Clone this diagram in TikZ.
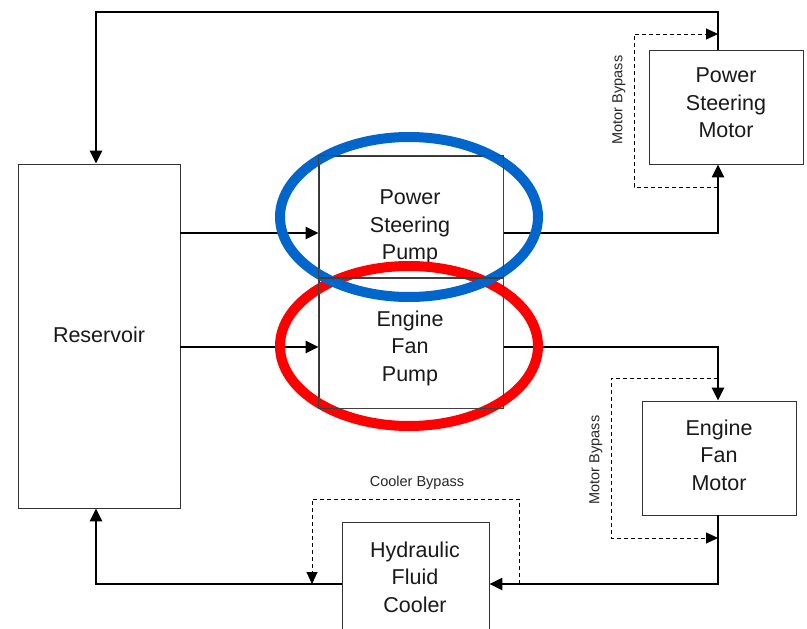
\documentclass[tikz,border=0pt]{standalone}
\usepackage{fontspec}
\setmainfont{Liberation Sans}
\usetikzlibrary{arrows.meta}
\definecolor{ringblue}{RGB}{0,102,204}
\definecolor{ringred}{RGB}{255,0,0}
\begin{document}
\begin{tikzpicture}[x=1pt,y=-1pt,
  box/.style={draw=black!80,line width=0.9pt,inner sep=0pt},
  outline/.style={draw=black!75,line width=0.9pt},
  lbl/.style={align=center,font=\fontsize{21.5}{27.5}\selectfont,text=black!90},
  small/.style={font=\fontsize{14.5}{17}\selectfont,text=black!85},
  flow/.style={line width=2.4pt,-{Triangle[length=13pt,width=12pt]}},
  bypass/.style={line width=0.9pt,dash pattern=on 4pt off 3pt,-{Triangle[length=12pt,width=11pt]}},
  ring/.style={line width=10pt}]
\useasboundingbox (0,0) rectangle (807,629);
\fill[white] (0,0) rectangle (807,629);
% boxes
\node[box,minimum width=162,minimum height=344] (res) at (99,336) {};
\node[box,minimum width=184,minimum height=122] (psp) at (411,217) {};
\node[box,minimum width=184,minimum height=130] (efp) at (411,343) {};
\node[box,minimum width=154,minimum height=114] (psm) at (726,107) {};
\node[box,minimum width=154,minimum height=114] (efm) at (719,458) {};
\node[box,minimum width=147,minimum height=128] (hfc) at (415.5,586) {};
% corner coordinates
\coordinate (tl) at (96,12);
\coordinate (tr) at (718,12);
\coordinate (r1) at (718,233);
\coordinate (r2) at (718,347);
\coordinate (bl) at (96,584);
\coordinate (br) at (718,584);
% main flow
\draw[flow] (tr |- psm.north) -- (tr) -- (tl) -- (tl |- res.north);
\draw[flow] (res.east |- r1) -- (psp.west |- r1);
\draw[flow] (res.east |- r2) -- (efp.west |- r2);
\draw[flow] (psp.east |- r1) -- (r1) -- (r1 |- psm.south);
\draw[flow] (efp.east |- r2) -- (r2) -- (r2 |- efm.north);
\draw[flow] (br |- efm.south) -- (br) -- (hfc.east |- br);
\draw[flow] (hfc.west |- bl) -- (bl) -- (bl |- res.south);
% bypasses
\coordinate (a1) at (718,187);
\coordinate (a2) at (634,187);
\coordinate (a3) at (634,34);
\coordinate (a4) at (718,34);
\draw[bypass] (a1) -- (a2) -- (a3) -- (a4);
\coordinate (b1) at (718,378);
\coordinate (b2) at (611,378);
\coordinate (b3) at (611,538);
\coordinate (b4) at (718,538);
\draw[bypass] (b1) -- (b2) -- (b3) -- (b4);
\coordinate (c1) at (519,584);
\coordinate (c2) at (519,499);
\coordinate (c3) at (312,499);
\coordinate (c4) at (312,584);
\draw[bypass] (c1) -- (c2) -- (c3) -- (c4);
\node[small,rotate=90] (mb1) at (619,100) {Motor Bypass};
\node[small,rotate=90] (mb2) at (596,460) {Motor Bypass};
\node[small] (cb) at (417,483) {Cooler Bypass};
% texts
\node[lbl] (tres) at (99,335) {Reservoir};
\node[lbl] (tpsp) at (410,227) {Power\\Steering\\Pump};
\node[lbl] (tefp) at (410,348) {Engine\\Fan\\Pump};
\node[lbl] (tpsm) at (726,103) {Power\\Steering\\Motor};
\node[lbl] (tefm) at (719,455) {Engine\\Fan\\Motor};
\node[lbl] (thfc) at (415,577) {Hydraulic\\Fluid\\Cooler};
% highlight rings
\draw[ring,ringred] (409,346) ellipse [x radius=129,y radius=80];
\draw[ring,ringblue] (409,217) ellipse [x radius=129,y radius=80];
% pump outlines above the rings
\draw[outline] (psp.north west) rectangle (psp.south east);
\draw[outline] (efp.north west) rectangle (efp.south east);
\end{tikzpicture}
\end{document}
